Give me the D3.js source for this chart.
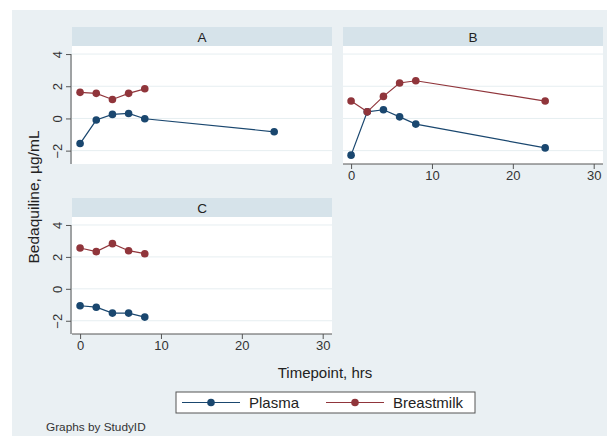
<!DOCTYPE html>
<html><head><meta charset="utf-8">
<script src="https://cdn.jsdelivr.net/npm/d3@7"></script>
<style>body{margin:0;background:#fff}svg{display:block;font-family:"Liberation Sans",Arial,sans-serif}</style>
</head><body><svg id="c" width="607" height="436"></svg>
<script>
const panels = ["A", "B", "C"];
const timepoints = {
  A: [0, 2, 4, 6, 8, 24],
  B: [0, 2, 4, 6, 8, 24],
  C: [0, 2, 4, 6, 8]
};
const plasma = {
  A: [-1.56, -0.1, 0.25, 0.31, -0.02, -0.83],
  B: [-2.28, 0.41, 0.54, 0.1, -0.35, -1.83],
  C: [-1.06, -1.15, -1.52, -1.52, -1.77]
};
const breastmilkTimes = {
  A: [0, 2, 4, 6, 8],
  B: [0, 2, 4, 6, 8, 24],
  C: [0, 2, 4, 6, 8]
};
const breastmilk = {
  A: [1.62, 1.56, 1.18, 1.56, 1.84],
  B: [1.08, 0.41, 1.37, 2.2, 2.34, 1.08],
  C: [2.56, 2.33, 2.83, 2.39, 2.2]
};
const yTicks = [-2, 0, 2, 4];
const xTicks = [0, 10, 20, 30];
const seriesNames = ["Plasma", "Breastmilk"];

const colors = {Plasma: "#1a476f", Breastmilk: "#90353b"};
const svg = d3.select("#c");
svg.append("rect").attr("x", 12).attr("y", 10).attr("width", 595).attr("height", 426).attr("fill", "#eaf0f3");

const layout = {
  A: {x0: 72, x1: 332, st: 27, sb: 46, pb: 164, yaxis: true, xaxis: false},
  B: {x0: 343, x1: 603, st: 27, sb: 46, pb: 164, yaxis: false, xaxis: true},
  C: {x0: 72, x1: 332, st: 198, sb: 217, pb: 334, yaxis: true, xaxis: true}
};

panels.forEach(p => {
  const L = layout[p];
  const x = d3.scaleLinear().domain([-1.0, 31.15]).range([L.x0, L.x1]);
  const y = d3.scaleLinear().domain([-2.83, 4.5]).range([L.pb, L.sb]);
  const g = svg.append("g");
  g.append("rect").attr("x", L.x0).attr("y", L.st).attr("width", L.x1 - L.x0).attr("height", L.sb - L.st).attr("fill", "#d6e3ea");
  g.append("text").attr("x", (L.x0 + L.x1) / 2).attr("y", (L.st + L.sb) / 2 + 5).attr("text-anchor", "middle")
    .attr("font-size", 13.5).attr("fill", "#222").text(p);
  g.append("rect").attr("x", L.x0).attr("y", L.sb).attr("width", L.x1 - L.x0).attr("height", L.pb - L.sb).attr("fill", "#fff");
  g.selectAll(".grid").data(yTicks).enter().append("line")
    .attr("x1", L.x0).attr("x2", L.x1).attr("y1", d => y(d)).attr("y2", d => y(d))
    .attr("stroke", "#e6eef1").attr("stroke-width", 1);
  if (L.yaxis) {
    const ya = g.append("g").attr("transform", `translate(${L.x0 - 1},0)`)
      .call(d3.axisLeft(y).tickValues(yTicks).tickSize(5).tickPadding(3).tickFormat(d3.format("d")));
    ya.select(".domain").attr("stroke", "#555").attr("d", `M0,${L.sb + 8}V${L.pb}`);
    ya.selectAll(".tick line").attr("stroke", "#555");
    ya.selectAll(".tick text").attr("font-size", 13).attr("fill", "#333")
      .attr("transform", "rotate(-90)").attr("text-anchor", "middle").attr("x", 0).attr("dy", "0").attr("y", -9);
  }
  if (L.xaxis) {
    const xa = g.append("g").attr("transform", `translate(0,${L.pb})`)
      .call(d3.axisBottom(x).tickValues(xTicks).tickSize(5).tickPadding(2));
    xa.select(".domain").attr("stroke", "#555").attr("d", `M${L.x0},0H${L.x1}`);
    xa.selectAll(".tick line").attr("stroke", "#555");
    xa.selectAll(".tick text").attr("font-size", 13).attr("fill", "#333");
  }
  const line = d3.line().x(d => x(d[0])).y(d => y(d[1]));
  const series = [
    {name: "Plasma", pts: timepoints[p].map((t, i) => [t, plasma[p][i]])},
    {name: "Breastmilk", pts: breastmilkTimes[p].map((t, i) => [t, breastmilk[p][i]])}
  ];
  series.forEach(s => {
    g.append("path").attr("d", line(s.pts)).attr("fill", "none").attr("stroke", colors[s.name]).attr("stroke-width", 1.2);
    g.selectAll(null).data(s.pts).enter().append("circle")
      .attr("cx", d => x(d[0])).attr("cy", d => y(d[1])).attr("r", 3.8).attr("fill", colors[s.name]);
  });
});

svg.append("text").attr("transform", "translate(39,197) rotate(-90)").attr("text-anchor", "middle")
  .attr("font-size", 15.5).attr("fill", "#222").text("Bedaquiline, µg/mL");
svg.append("text").attr("x", 325).attr("y", 378).attr("text-anchor", "middle")
  .attr("font-size", 15).attr("fill", "#222").text("Timepoint, hrs");

const lg = svg.append("g");
lg.append("rect").attr("x", 176).attr("y", 392).attr("width", 299).attr("height", 21).attr("fill", "#fff").attr("stroke", "#555").attr("stroke-width", 1);
const legPos = [{lx: 182, tx: 249}, {lx: 326, tx: 393}];
seriesNames.forEach((n, i) => {
  const P = legPos[i];
  lg.append("line").attr("x1", P.lx).attr("x2", P.lx + 58).attr("y1", 402.5).attr("y2", 402.5).attr("stroke", colors[n]).attr("stroke-width", 1.2);
  lg.append("circle").attr("cx", P.lx + 29).attr("cy", 402.5).attr("r", 3.8).attr("fill", colors[n]);
  lg.append("text").attr("x", P.tx).attr("y", 408).attr("font-size", 15).attr("fill", "#222").text(n);
});
svg.append("text").attr("x", 46).attr("y", 431).attr("font-size", 11.8).attr("fill", "#333").text("Graphs by StudyID");
</script></body></html>
